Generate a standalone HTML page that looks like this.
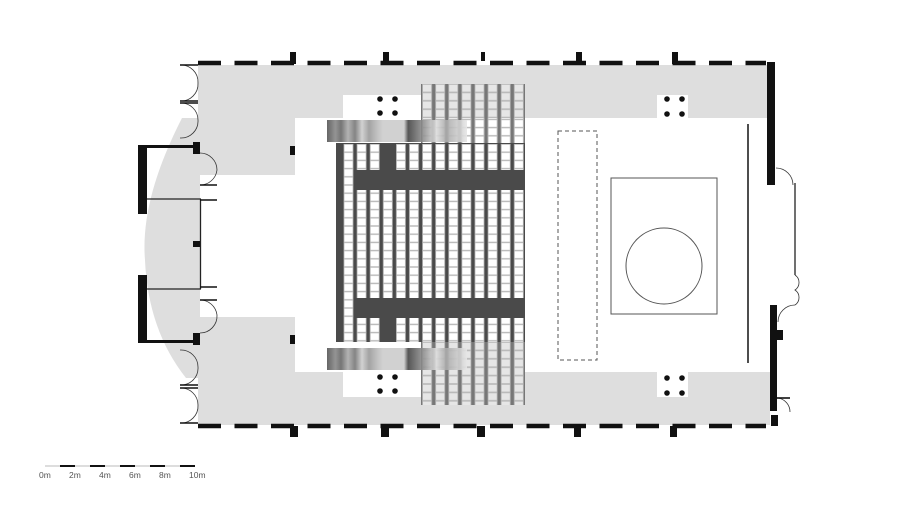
<!DOCTYPE html>
<html><head><meta charset="utf-8"><style>
html,body{margin:0;padding:0;background:#fff;}
svg{display:block;}
text{font-family:"Liberation Sans",sans-serif;font-size:8.5px;fill:#555;}
</style></head><body>
<svg width="900" height="506" viewBox="0 0 900 506" xmlns="http://www.w3.org/2000/svg">
<defs>
<pattern id="seat" x="341.5" y="144" width="13.1" height="8.2" patternUnits="userSpaceOnUse">
<rect x="2.5" y="0.3" width="9" height="7.6" fill="#fff" stroke="#b8b8b8" stroke-width="0.8"/>
</pattern>
<pattern id="seat2" x="341.5" y="84" width="13.1" height="8.4" patternUnits="userSpaceOnUse">
<rect x="2.5" y="0.4" width="9" height="7.6" fill="#e6e6e6" stroke="#b8b8b8" stroke-width="0.8"/>
</pattern>
<pattern id="seat3" x="341.5" y="342" width="13.1" height="8.4" patternUnits="userSpaceOnUse">
<rect x="2.5" y="0.4" width="9" height="7.6" fill="#e6e6e6" stroke="#b8b8b8" stroke-width="0.8"/>
</pattern>
<linearGradient id="stripes" x1="0" x2="1" y1="0" y2="0">
<stop offset="0" stop-color="#555"/><stop offset="0.06" stop-color="#888"/><stop offset="0.1" stop-color="#666"/>
<stop offset="0.15" stop-color="#aaa"/><stop offset="0.2" stop-color="#777"/><stop offset="0.25" stop-color="#ccc"/>
<stop offset="0.3" stop-color="#999"/><stop offset="0.36" stop-color="#bbb"/><stop offset="0.4" stop-color="#ccc"/>
<stop offset="0.55" stop-color="#ccc"/><stop offset="0.58" stop-color="#444"/><stop offset="0.65" stop-color="#777"/>
<stop offset="0.7" stop-color="#999"/><stop offset="0.78" stop-color="#ddd"/><stop offset="0.85" stop-color="#aaa"/>
<stop offset="1" stop-color="#e6e6e6"/>
</linearGradient>
</defs>

<g fill="#dedede">
<rect x="198" y="65" width="572" height="53"/>
<rect x="198" y="372" width="572" height="53"/>
<rect x="198" y="65" width="97" height="110"/>
<rect x="198" y="317" width="97" height="108"/>
<path d="M182,118 Q140,200 145,260 Q148,330 186,378 L200,378 L200,118 Z"/>
</g>
<rect x="343" y="95" width="79" height="23" fill="#fff"/>
<rect x="343" y="372" width="79" height="25" fill="#fff"/>
<rect x="657" y="95" width="31" height="23" fill="#fff"/>
<rect x="657" y="372" width="31" height="25" fill="#fff"/>
<g fill="#111">
<circle cx="380" cy="99" r="2.8"/><circle cx="395" cy="99" r="2.8"/><circle cx="380" cy="113" r="2.8"/><circle cx="395" cy="113" r="2.8"/>
<circle cx="380" cy="377" r="2.8"/><circle cx="395" cy="377" r="2.8"/><circle cx="380" cy="391" r="2.8"/><circle cx="395" cy="391" r="2.8"/>
<circle cx="667" cy="99" r="2.8"/><circle cx="682" cy="99" r="2.8"/><circle cx="667" cy="114" r="2.8"/><circle cx="682" cy="114" r="2.8"/>
<circle cx="667" cy="378" r="2.8"/><circle cx="682" cy="378" r="2.8"/><circle cx="667" cy="393" r="2.8"/><circle cx="682" cy="393" r="2.8"/>
</g>

<rect x="421" y="84" width="104" height="59" fill="#777"/>
<rect x="421" y="84" width="104" height="59" fill="url(#seat2)"/>
<rect x="421" y="342" width="104" height="63" fill="#777"/>
<rect x="421" y="342" width="104" height="63" fill="url(#seat3)"/>
<rect x="421" y="118" width="104" height="25" fill="url(#seat)"/>

<rect x="336" y="143" width="189" height="199" fill="#4a4a4a"/>
<rect x="341" y="144" width="184" height="198" fill="url(#seat)"/>
<rect x="355" y="170" width="170" height="20" fill="#4a4a4a"/>
<rect x="355" y="298" width="170" height="20" fill="#4a4a4a"/>
<rect x="381" y="144" width="15" height="26" fill="#4a4a4a"/>
<rect x="381" y="318" width="15" height="24" fill="#4a4a4a"/>

<rect x="327" y="120" width="140" height="22" fill="url(#stripes)" opacity="0.9"/>
<rect x="327" y="348" width="140" height="22" fill="url(#stripes)" opacity="0.9"/>

<rect x="558" y="131" width="39" height="229" fill="none" stroke="#555" stroke-width="1" stroke-dasharray="4,3"/>
<rect x="611" y="178" width="106" height="136" fill="none" stroke="#555" stroke-width="1"/>
<circle cx="664" cy="266" r="38" fill="none" stroke="#555" stroke-width="1"/>
<line x1="748" y1="124" x2="748" y2="363" stroke="#222" stroke-width="1.6"/>

<line x1="198" y1="63" x2="766" y2="63" stroke="#111" stroke-width="4.5" stroke-dasharray="23,13.5"/>
<line x1="198" y1="426" x2="766" y2="426" stroke="#111" stroke-width="4.5" stroke-dasharray="23,13.5"/>
<g fill="#111">
<rect x="290" y="52" width="6" height="12"/><rect x="383" y="52" width="6" height="12"/><rect x="481" y="52" width="4" height="9"/>
<rect x="576" y="52" width="6" height="12"/><rect x="672" y="52" width="6" height="12"/>
<rect x="290" y="426" width="8" height="11"/><rect x="381" y="426" width="8" height="11"/><rect x="477" y="426" width="8" height="11"/>
<rect x="574" y="426" width="7" height="11"/><rect x="670" y="426" width="7" height="11"/>
<rect x="290" y="146" width="5" height="9"/><rect x="290" y="335" width="5" height="9"/>
<rect x="193" y="241" width="7" height="6"/>
<rect x="767" y="62" width="8" height="123"/>
<rect x="770" y="305" width="7" height="106"/>
<rect x="777" y="330" width="6" height="10"/>
<rect x="771" y="415" width="7" height="11"/>
<rect x="138" y="145" width="9" height="69"/>
<rect x="138" y="275" width="9" height="68"/>
<rect x="147" y="145" width="50" height="3"/>
<rect x="147" y="340" width="50" height="3"/>
<rect x="193" y="142" width="7" height="12"/>
<rect x="193" y="333" width="7" height="12"/>
</g>
<g fill="none" stroke="#222" stroke-width="1.3">
<line x1="147" y1="199" x2="201" y2="199"/>
<line x1="147" y1="289" x2="201" y2="289"/>
<line x1="200.5" y1="199" x2="200.5" y2="289"/>
<line x1="795" y1="183" x2="795" y2="275"/>
</g>
<g fill="none" stroke="#333" stroke-width="0.8">
<path d="M180,65 A17,17 0 0 1 198,83 A17,17 0 0 1 180,101"/>
<path d="M180,103 A17,17 0 0 1 198,120 A17,17 0 0 1 180,138"/>
<path d="M200,153 A17,17 0 0 1 217,170 A17,17 0 0 1 200,185"/>
<path d="M200,300 A17,17 0 0 1 217,315 A17,17 0 0 1 200,333"/>
<path d="M180,350 A17,17 0 0 1 198,367 A17,17 0 0 1 180,385"/>
<path d="M180,388 A17,17 0 0 1 198,405 A17,17 0 0 1 180,423"/>
<path d="M776,168 A17,17 0 0 1 793,185"/>
<path d="M795,275 A9,9 0 0 1 795,290 A9,9 0 0 1 795,305"/>
<path d="M778,322 A17,17 0 0 1 795,305"/>
<path d="M778,398 A14,14 0 0 1 790,412"/>
</g>
<g stroke="#111" stroke-width="1.6">
<line x1="180" y1="65" x2="198" y2="65"/><line x1="180" y1="101" x2="198" y2="101"/>
<line x1="180" y1="103" x2="198" y2="103"/><line x1="180" y1="423" x2="198" y2="423"/>
<line x1="200" y1="185" x2="217" y2="185"/><line x1="200" y1="200" x2="217" y2="200"/>
<line x1="200" y1="287" x2="217" y2="287"/><line x1="200" y1="300" x2="217" y2="300"/>
<line x1="180" y1="385" x2="198" y2="385"/><line x1="180" y1="388" x2="198" y2="388"/>
<line x1="776" y1="398" x2="790" y2="398"/>
</g>

<rect x="45" y="465" width="150" height="2" fill="#ddd"/>
<g fill="#111">
<rect x="60" y="465" width="15" height="2"/><rect x="90" y="465" width="15" height="2"/><rect x="120" y="465" width="15" height="2"/>
<rect x="150" y="465" width="15" height="2"/><rect x="180" y="465" width="15" height="2"/>
</g>
<text x="39" y="478">0m</text>
<text x="69" y="478">2m</text>
<text x="99" y="478">4m</text>
<text x="129" y="478">6m</text>
<text x="159" y="478">8m</text>
<text x="189" y="478">10m</text>
</svg>
</body></html>
